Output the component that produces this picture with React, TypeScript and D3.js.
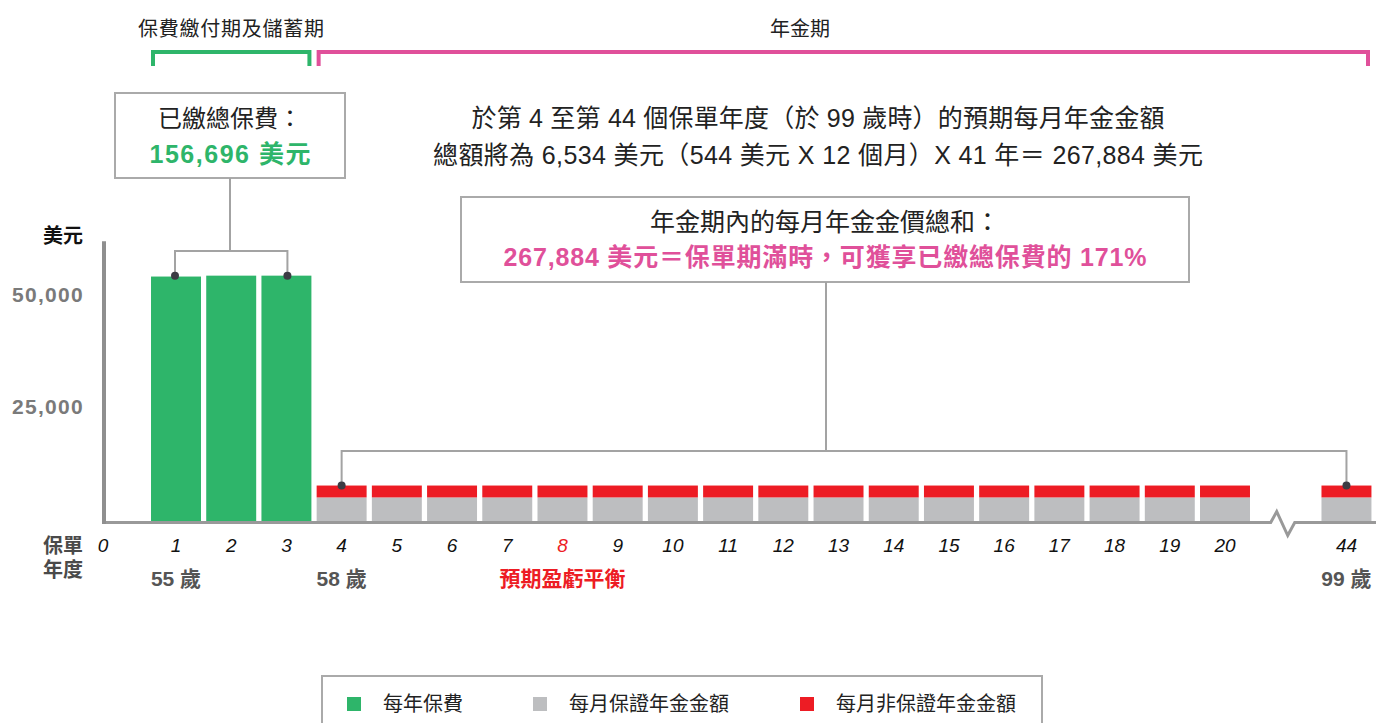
import * as d3 from 'd3'

const premiumYears = [1, 2, 3]
const premiumValues = [54900, 55100, 55100]

const annuityYears = [4, 5, 6, 7, 8, 9, 10, 11, 12, 13, 14, 15, 16, 17, 18, 19, 20, 44]
const guaranteedValues = [5600, 5600, 5600, 5600, 5600, 5600, 5600, 5600, 5600, 5600, 5600, 5600, 5600, 5600, 5600, 5600, 5600, 5600]
const nonGuaranteedValues = [2650, 2650, 2650, 2650, 2650, 2650, 2650, 2650, 2650, 2650, 2650, 2650, 2650, 2650, 2650, 2650, 2650, 2650]

const xTickYears = [1, 2, 3, 4, 5, 6, 7, 8, 9, 10, 11, 12, 13, 14, 15, 16, 17, 18, 19, 20, 44]
const yTicks = [25000, 50000]
const ageLabels = [
  { year: 1, text: '55 歲' },
  { year: 4, text: '58 歲' },
  { year: 44, text: '99 歲' }
]
const breakEvenYear = 8

const legendItems = [
  { label: '每年保費', color: '#2eb56a' },
  { label: '每月保證年金金額', color: '#bdbec0' },
  { label: '每月非保證年金金額', color: '#ed1c24' }
]

const GREEN = '#2eb56a'
const GRAY = '#bdbec0'
const RED = '#ed1c24'
const PINK = '#e0509a'
const LINE = '#a3a3a3'
const FONT = '"Liberation Sans", "Noto Sans CJK TC", sans-serif'

// years past 20 sit after a broken axis
const BREAK_GAP = 1.2
const slot = (year: number) => (year <= 20 ? year : 21 + BREAK_GAP)

export default function App() {
  const width = 1376
  const height = 723

  const x = d3.scaleLinear().domain([1, 20]).range([176, 1225])
  const step = x(2) - x(1)
  const barW = step * 0.905
  const y = d3.scaleLinear().domain([0, 25000]).range([522.5, 410.5])
  const axisX = 104
  const yTop = y(62800)

  const bx = x(slot(20) + 0.5 + BREAK_GAP / 2) - 2
  const baseY = y(0)
  const axisPath = `M${axisX},${baseY} H${bx - 13} L${bx - 7},${baseY - 11} L${bx + 4},${baseY + 13} L${bx + 11},${baseY} H${width}`

  const firstAnnuity = x(slot(annuityYears[0]))
  const lastAnnuity = x(slot(annuityYears[annuityYears.length - 1]))
  const annuityTop = y(guaranteedValues[0] + nonGuaranteedValues[0])
  const premTop = y(d3.max(premiumValues) as number)

  return (
    <svg width={width} height={height} style={{ position: 'absolute', left: 0, top: 0 }} fontFamily={FONT}>
      {/* period brackets */}
      <text x={231} y={36} textAnchor="middle" fontSize={20} fill="#222" textLength={186}>保費繳付期及儲蓄期</text>
      <path d={`M${x(1) - 23},66 V52 H${x(3) + 23} V66`} fill="none" stroke={GREEN} strokeWidth={4} />
      <text x={800} y={36} textAnchor="middle" fontSize={20} fill="#222">年金期</text>
      <path d={`M${x(4) - 23},66 V52 H${1368} V66`} fill="none" stroke={PINK} strokeWidth={4} />

      {/* premium callout */}
      <rect x={115} y={93} width={230} height={85} fill="#fff" stroke="#aaa" strokeWidth={2} />
      <text x={230} y={127} textAnchor="middle" fontSize={24} fill="#222">已繳總保費：</text>
      <text x={230} y={163} textAnchor="middle" fontSize={25} fontWeight="bold" fill={GREEN} textLength={161} lengthAdjust="spacing">156,696 美元</text>
      <path d={`M230,178 V251 M${x(1) - 1},251 H${x(3) + 1} M${x(1) - 1},250 V${premTop} M${x(3) + 1},250 V${premTop}`} fill="none" stroke={LINE} strokeWidth={2} />

      {/* annuity note */}
      <text x={818} y={127} textAnchor="middle" fontSize={25} fill="#222" textLength={693} lengthAdjust="spacing">於第 4 至第 44 個保單年度（於 99 歲時）的預期每月年金金額</text>
      <text x={818} y={164} textAnchor="middle" fontSize={25} fill="#222" textLength={770} lengthAdjust="spacing">總額將為 6,534 美元（544 美元  X 12 個月）X 41 年＝ 267,884 美元</text>

      <rect x={461} y={197} width={728} height={85} fill="#fff" stroke="#aaa" strokeWidth={2} />
      <text x={825} y={231} textAnchor="middle" fontSize={25} fill="#222">年金期內的每月年金金價總和：</text>
      <text x={825} y={266} textAnchor="middle" fontSize={25} fontWeight="bold" fill={PINK} textLength={643} lengthAdjust="spacing">267,884 美元＝保單期滿時，可獲享已繳總保費的 171%</text>
      <path d={`M826,282 V451 M${firstAnnuity},451 H${lastAnnuity} M${firstAnnuity},450 V${annuityTop} M${lastAnnuity},450 V${annuityTop}`} fill="none" stroke={LINE} strokeWidth={2} />

      {/* bars */}
      {premiumYears.map((yr, i) => (
        <rect key={`p${yr}`} x={x(slot(yr)) - barW / 2} y={y(premiumValues[i])} width={barW} height={y(0) - y(premiumValues[i])} fill={GREEN} />
      ))}
      {annuityYears.map((yr, i) => {
        const g = guaranteedValues[i]
        const n = nonGuaranteedValues[i]
        return (
          <g key={`a${yr}`}>
            <rect x={x(slot(yr)) - barW / 2} y={y(g)} width={barW} height={y(0) - y(g)} fill={GRAY} />
            <rect x={x(slot(yr)) - barW / 2} y={y(g + n)} width={barW} height={y(g) - y(g + n)} fill={RED} />
          </g>
        )
      })}

      {/* axes */}
      <path d={axisPath} fill="none" stroke="#999" strokeWidth={3} />
      <line x1={axisX} x2={axisX} y1={yTop} y2={baseY + 1.5} stroke="#8f8f8f" strokeWidth={4} />

      {/* callout dots */}
      {[x(1) - 1, x(3) + 1].map((cx) => (
        <circle key={`d${cx}`} cx={cx} cy={premTop} r={4} fill="#3c3c44" />
      ))}
      {[firstAnnuity, lastAnnuity].map((cx) => (
        <circle key={`e${cx}`} cx={cx} cy={annuityTop} r={4} fill="#3c3c44" />
      ))}

      {/* y labels */}
      <text x={63} y={243} textAnchor="middle" fontSize={20} fontWeight="bold" fill="#111">美元</text>
      {yTicks.map((t) => (
        <text key={t} x={84} y={y(t) + 3} textAnchor="end" fontSize={21} fontWeight="bold" fill="#7a7a7a" letterSpacing={1.3}>
          {d3.format(',')(t)}
        </text>
      ))}

      {/* x labels */}
      <text x={63} y={553} textAnchor="middle" fontSize={20} fontWeight="bold" fill="#4a4a4a">保單</text>
      <text x={63} y={577} textAnchor="middle" fontSize={20} fontWeight="bold" fill="#4a4a4a">年度</text>
      <text x={axisX - 1} y={552} textAnchor="middle" fontSize={19} fontStyle="italic" fill="#111">0</text>
      {xTickYears.map((yr) => (
        <text key={`t${yr}`} x={x(slot(yr))} y={552} textAnchor="middle" fontSize={19} fontStyle="italic" fill={yr === breakEvenYear ? RED : '#111'}>
          {yr}
        </text>
      ))}
      {ageLabels.map((a) => (
        <text key={a.text} x={x(slot(a.year))} y={586} textAnchor="middle" fontSize={21} fontWeight="bold" fill="#555">
          {a.text}
        </text>
      ))}
      <text x={x(breakEvenYear)} y={586} textAnchor="middle" fontSize={21} fontWeight="bold" fill={RED}>預期盈虧平衡</text>

      {/* legend */}
      <rect x={322} y={676} width={720} height={70} fill="#fff" stroke="#aaa" strokeWidth={2} />
      {legendItems.map((item, i) => {
        const lx = [347, 533, 800][i]
        return (
          <g key={item.label}>
            <rect x={lx} y={697} width={14} height={14} fill={item.color} />
            <text x={lx + 36} y={711} fontSize={20} fill="#222">{item.label}</text>
          </g>
        )
      })}
    </svg>
  )
}
